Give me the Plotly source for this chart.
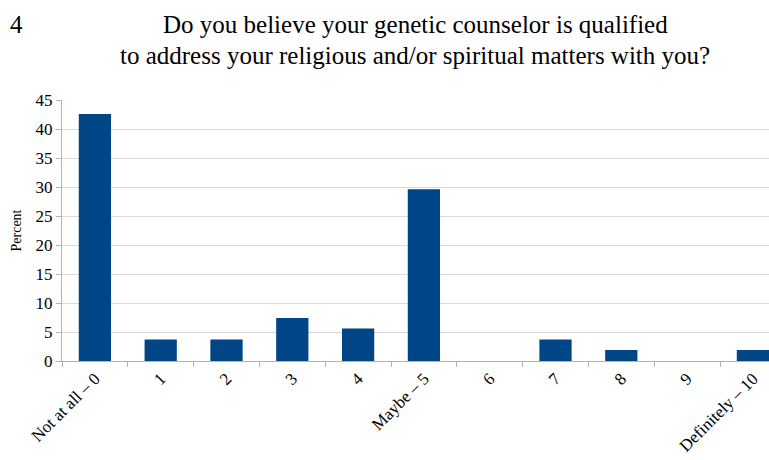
import plotly.graph_objects as go

categories = ["Not at all – 0", "1", "2", "3", "4", "Maybe – 5", "6", "7", "8", "9", "Definitely – 10"]
percent = [42.6, 3.7, 3.7, 7.4, 5.6, 29.6, 0, 3.7, 1.9, 0, 1.9]
y_ticks = [0, 5, 10, 15, 20, 25, 30, 35, 40, 45]
title_lines = [
    "Do you believe your genetic counselor is qualified",
    "to address your religious and/or spiritual matters with you?",
]

W, H = 769, 460
L, R, T, B = 62, 0, 100, 99
plot_w = W - L - R
plot_h = H - T - B

serif = "Liberation Serif"


def px_x(px):
    return (px - L) / plot_w


def px_y(py):
    return (H - B - py) / plot_h


fig = go.Figure(
    go.Bar(
        x=categories,
        y=percent,
        marker=dict(color="#004586", line=dict(width=0)),
        width=0.49,
    )
)

annotations = [
    dict(
        text=line,
        xref="paper",
        yref="paper",
        x=px_x(415),
        y=px_y(cy),
        xanchor="center",
        yanchor="middle",
        showarrow=False,
        font=dict(family=serif, size=25, color="#000000"),
    )
    for line, cy in zip(title_lines, [24, 55])
]
annotations.append(
    dict(
        text="4",
        xref="paper",
        yref="paper",
        x=px_x(8),
        y=px_y(24),
        xanchor="left",
        yanchor="middle",
        showarrow=False,
        font=dict(family=serif, size=25, color="#000000"),
    )
)

fig.update_layout(
    width=W,
    height=H,
    margin=dict(l=L, r=R, t=T, b=B),
    paper_bgcolor="white",
    plot_bgcolor="white",
    showlegend=False,
    font=dict(family=serif, color="#000000"),
    xaxis=dict(
        type="category",
        range=[-0.5, -0.5 + plot_w / 65.8],
        tickangle=-45,
        tickfont=dict(family=serif, size=17, color="#000000"),
        showline=True,
        linecolor="#b3b3b3",
        linewidth=1,
        ticks="outside",
        tickson="boundaries",
        ticklen=5,
        tickcolor="#b3b3b3",
        showgrid=False,
    ),
    yaxis=dict(
        range=[0, 45],
        tickvals=y_ticks,
        tickfont=dict(family=serif, size=17, color="#000000"),
        showline=True,
        linecolor="#b3b3b3",
        linewidth=1,
        ticks="outside",
        ticklen=5,
        tickcolor="#b3b3b3",
        showgrid=True,
        gridcolor="#dadada",
        gridwidth=1,
        zeroline=False,
        title=dict(text="Percent", font=dict(family=serif, size=14, color="#000000"), standoff=10),
    ),
    annotations=annotations,
)

fig.write_html("out.html")
